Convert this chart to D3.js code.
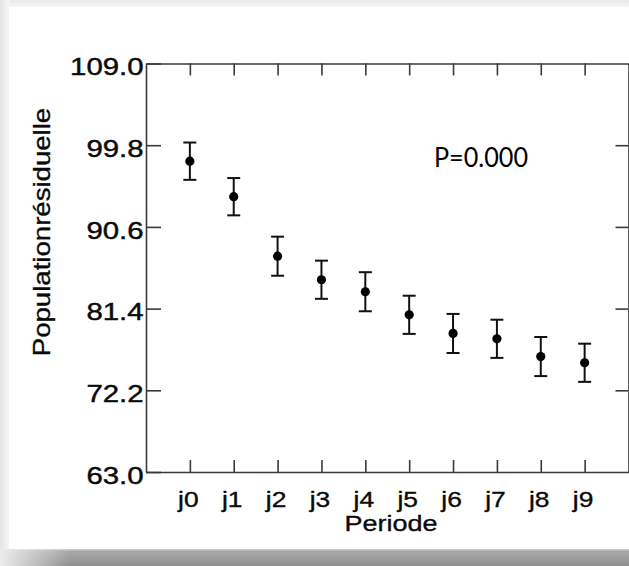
<!DOCTYPE html>
<html>
<head>
<meta charset="utf-8">
<script src="https://cdn.jsdelivr.net/npm/d3@7"></script>
<style>
  html, body { margin: 0; padding: 0; background: #fff; }
  svg { display: block; }
</style>
</head>
<body>
<svg id="chart" width="629" height="566"></svg>
<script>
// Residual population by period: mean with error bars
const periods = ["j0", "j1", "j2", "j3", "j4", "j5", "j6", "j7", "j8", "j9"];
const means   = [98.0, 94.0, 87.3, 84.65, 83.3, 80.7, 78.6, 78.0, 76.0, 75.3];
const errors  = [2.1, 2.1, 2.2, 2.15, 2.2, 2.15, 2.2, 2.15, 2.2, 2.15];
const yTicks  = [63.0, 72.2, 81.4, 90.6, 99.8, 109.0];
const pLabel  = "P=0.000";
const xTitle  = "Periode";
const yTitle  = "Populationrésiduelle";

(function draw() {
  const W = 629, H = 566;
  const plot = { left: 146, right: 628.5, top: 63.5, bottom: 472 };
  const axisColor = "#3a3a3a";
  const textColor = "#0a0a0a";
  const font = "'Liberation Sans', Arial, sans-serif";
  const stretch = 1.2;

  const svg = d3.select("#chart");
  const defs = svg.append("defs");

  // Frame / shadow around the white panel
  const gTop = defs.append("linearGradient").attr("id", "gTop").attr("x1", 0).attr("y1", 0).attr("x2", 0).attr("y2", 1);
  gTop.append("stop").attr("offset", 0).attr("stop-color", "#e9e9e9");
  gTop.append("stop").attr("offset", 1).attr("stop-color", "#f6f6f6");
  const gLeft = defs.append("linearGradient").attr("id", "gLeft").attr("x1", 0).attr("y1", 0).attr("x2", 1).attr("y2", 0);
  gLeft.append("stop").attr("offset", 0).attr("stop-color", "#e4e4e4");
  gLeft.append("stop").attr("offset", 1).attr("stop-color", "#f7f7f7");
  const gBot = defs.append("linearGradient").attr("id", "gBot").attr("x1", 0).attr("y1", 0).attr("x2", 0).attr("y2", 1);
  gBot.append("stop").attr("offset", 0).attr("stop-color", "#d6d6d6");
  gBot.append("stop").attr("offset", 0.12).attr("stop-color", "#a9a9a9");
  gBot.append("stop").attr("offset", 1).attr("stop-color", "#8f8f8f");
  const gBotFade = defs.append("linearGradient").attr("id", "gBotFade").attr("x1", 0).attr("y1", 0).attr("x2", 1).attr("y2", 0);
  gBotFade.append("stop").attr("offset", 0).attr("stop-color", "#ececec").attr("stop-opacity", 1);
  gBotFade.append("stop").attr("offset", 1).attr("stop-color", "#ececec").attr("stop-opacity", 0);

  svg.append("rect").attr("x", 0).attr("y", 0).attr("width", W).attr("height", H).attr("fill", "#f2f2f2");
  svg.append("rect").attr("x", 0).attr("y", 0).attr("width", W).attr("height", 7).attr("fill", "url(#gTop)");
  svg.append("rect").attr("x", 0).attr("y", 0).attr("width", 9).attr("height", 549).attr("fill", "url(#gLeft)");
  svg.append("rect").attr("x", 0).attr("y", 549).attr("width", W).attr("height", H - 549).attr("fill", "url(#gBot)");
  svg.append("rect").attr("x", 0).attr("y", 549).attr("width", 70).attr("height", H - 549).attr("fill", "url(#gBotFade)");
  svg.append("rect").attr("x", 9).attr("y", 7).attr("width", W - 9).attr("height", 542).attr("fill", "#ffffff");

  // Scales
  const x = d3.scalePoint().domain(periods).range([plot.left, plot.right]).padding(1);
  const y = d3.scaleLinear().domain([63, 109]).range([plot.bottom, plot.top]);

  const axes = svg.append("g");

  // Left axis with inward ticks
  const leftAxis = axes.append("g").attr("transform", `translate(${plot.left},0)`)
    .call(d3.axisLeft(y).tickValues(yTicks).tickFormat(d3.format(".1f")).tickSize(-15).tickSizeOuter(0).tickPadding(2));
  leftAxis.selectAll(".tick text")
    .attr("font-family", font).attr("font-size", 24.5).attr("fill", textColor)
    .attr("stroke", textColor).attr("stroke-width", 0.45)
    .attr("dy", "0.46em")
    .attr("transform", `scale(${stretch},1)`);

  // Right axis (ticks only)
  axes.append("g").attr("transform", `translate(${plot.right},0)`)
    .call(d3.axisRight(y).tickValues(yTicks.slice(1, -1)).tickSize(-13).tickSizeOuter(0).tickFormat(""));

  // Bottom axis with category labels
  const bottomAxis = axes.append("g").attr("transform", `translate(0,${plot.bottom})`)
    .call(d3.axisBottom(x).tickSize(-12).tickSizeOuter(0).tickPadding(19));
  bottomAxis.selectAll(".tick text")
    .attr("font-family", font).attr("font-size", 22).attr("fill", textColor)
    .attr("stroke", textColor).attr("stroke-width", 0.35)
    .attr("dy", "0.71em")
    .attr("transform", `translate(-2,0) scale(${stretch},1)`);

  // Top axis (ticks only)
  axes.append("g").attr("transform", `translate(0,${plot.top})`)
    .call(d3.axisTop(x).tickSize(-12).tickSizeOuter(0).tickFormat(""));

  axes.selectAll(".domain").attr("stroke", axisColor).attr("stroke-width", 1.6);
  axes.selectAll(".tick line").attr("stroke", axisColor).attr("stroke-width", 1.6);

  // Axis titles
  svg.append("text")
    .attr("font-family", font).attr("font-size", 22.5).attr("fill", textColor)
    .attr("stroke", textColor).attr("stroke-width", 0.35)
    .attr("text-anchor", "middle")
    .attr("transform", `translate(391,531) scale(${stretch},1)`)
    .text(xTitle);

  svg.append("text")
    .attr("font-family", font).attr("font-size", 23).attr("fill", textColor)
    .attr("stroke", textColor).attr("stroke-width", 0.35)
    .attr("text-anchor", "middle")
    .attr("transform", `translate(50,232) rotate(-90) scale(${stretch},1)`)
    .text(yTitle);

  // Significance annotation
  svg.append("text")
    .attr("font-family", "Lato, 'Open Sans', sans-serif").attr("font-size", 26).attr("fill", "#000")
    .attr("x", 434).attr("y", 167)
    .attr("textLength", 94).attr("lengthAdjust", "spacingAndGlyphs")
    .text(pLabel);

  // Error bars and mean points
  const data = periods.map((p, i) => ({ p, m: means[i], e: errors[i] }));
  const cap = 6.5;
  const bars = svg.append("g").selectAll("g.bar").data(data).join("g").attr("class", "bar");
  bars.append("line")
    .attr("x1", d => x(d.p)).attr("x2", d => x(d.p))
    .attr("y1", d => y(d.m + d.e)).attr("y2", d => y(d.m - d.e))
    .attr("stroke", "#111").attr("stroke-width", 2);
  bars.append("line")
    .attr("x1", d => x(d.p) - cap).attr("x2", d => x(d.p) + cap)
    .attr("y1", d => y(d.m + d.e)).attr("y2", d => y(d.m + d.e))
    .attr("stroke", "#111").attr("stroke-width", 2);
  bars.append("line")
    .attr("x1", d => x(d.p) - cap).attr("x2", d => x(d.p) + cap)
    .attr("y1", d => y(d.m - d.e)).attr("y2", d => y(d.m - d.e))
    .attr("stroke", "#111").attr("stroke-width", 2);
  bars.append("circle")
    .attr("cx", d => x(d.p)).attr("cy", d => y(d.m)).attr("r", 4.6)
    .attr("fill", "#000");
})();
</script>
</body>
</html>
